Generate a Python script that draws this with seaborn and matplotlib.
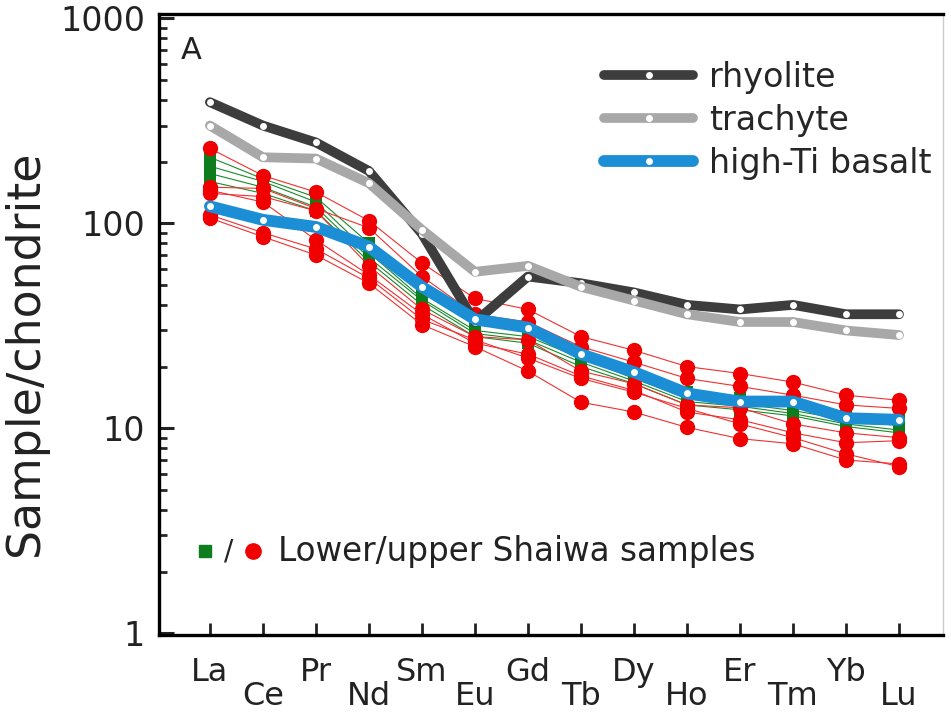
import matplotlib
matplotlib.use("Agg")
import matplotlib.pyplot as plt
import seaborn as sns
from matplotlib.ticker import FixedLocator, LogLocator, NullFormatter, FuncFormatter

# REE elements along the x axis
elements = ["La", "Ce", "Pr", "Nd", "Sm", "Eu", "Gd", "Tb", "Dy", "Ho", "Er", "Tm", "Yb", "Lu"]

# reference patterns (chondrite normalised)
rhyolite = [390, 300, 248, 180, 89, 33, 55, 51, 46, 40, 38, 40, 36, 36]
trachyte = [300, 210, 207, 157, 93, 58, 62, 49, 42, 36, 33, 33, 30, 28.5]
high_ti_basalt = [121, 104, 96, 77, 49, 34, 31, 23, 18.8, 14.8, 13.5, 13.5, 11.2, 11]

# lower Shaiwa samples (green squares)
lower_samples = [
    [210, 165, 134, 80, 46, 32, 30, 23, 18.5, 15, 14, 12.8, 11.5, 11],
    [190, 160, 127, 72, 43, 30, 28, 22, 17.5, 14, 13.2, 12.2, 11, 10.3],
    [175, 150, 120, 68, 42, 29, 27, 21, 17, 13.5, 12.8, 11.8, 10.5, 9.8],
    [160, 140, 115, 65, 40, 28, 26, 20, 16.5, 13, 12.3, 11.5, 10.2, 9.5],
]

# upper Shaiwa samples (red circles)
upper_samples = [
    [232, 171, 142, 103, 64, 43, 38, 28, 24, 20, 18.5, 16.8, 14.5, 13.7],
    [150, 148, 118, 95, 55, 36, 33, 25, 21, 17.5, 16, 14.5, 13, 12.5],
    [140, 135, 115, 62, 38, 28, 27, 19, 16.5, 13, 12.6, 10.5, 9.5, 9],
    [145, 127, 83, 56, 36, 26, 23, 18, 15.3, 12, 11, 9.5, 8.5, 8.7],
    [110, 90, 75, 54, 34, 27, 22, 17.5, 15, 12.5, 10.5, 9, 7.5, 6.5],
    [106, 86, 70, 51, 32, 25, 19, 13.4, 12, 10.1, 8.9, 8.4, 7, 6.7],
]

sns.set_theme(style="ticks")
plt.rcParams["font.family"] = ["DejaVu Sans"]

xpos = list(range(len(elements)))

fig = plt.figure(figsize=(9.51, 7.19), dpi=100)
ax = fig.add_axes([0.1672, 0.1168, 0.8244, 0.8637])

for s in lower_samples:
    sns.lineplot(x=xpos, y=s, ax=ax, color="#1a8a2a", lw=0.8, marker="s",
                 markersize=9, markeredgewidth=0, markerfacecolor="#0e7d1e")
for s in upper_samples:
    sns.lineplot(x=xpos, y=s, ax=ax, color="#f03030", lw=0.8, marker="o",
                 markersize=11, markeredgewidth=0, markerfacecolor="#f00000")

sns.lineplot(x=xpos, y=rhyolite, ax=ax, color="#3d3d3d", lw=7, marker="o",
             markersize=5, markerfacecolor="white", markeredgewidth=0, label="rhyolite")
sns.lineplot(x=xpos, y=trachyte, ax=ax, color="#a8a8a8", lw=7, marker="o",
             markersize=5, markerfacecolor="white", markeredgewidth=0, label="trachyte")
sns.lineplot(x=xpos, y=high_ti_basalt, ax=ax, color="#1b8ed6", lw=8.5, marker="o",
             markersize=5, markerfacecolor="white", markeredgewidth=0, label="high-Ti basalt")

ax.set_yscale("log")
ax.set_ylim(0.98, 1050)
ax.set_xlim(-0.96, 13.83)

ax.yaxis.set_major_locator(FixedLocator([1, 10, 100, 1000]))
ax.yaxis.set_major_formatter(FuncFormatter(lambda v, p: f"{v:g}"))
ax.yaxis.set_minor_locator(LogLocator(base=10, subs=range(2, 10)))
ax.yaxis.set_minor_formatter(NullFormatter())

ax.set_xticks(xpos)
ax.set_xticklabels(elements)
ax.tick_params(axis="x", which="major", direction="in", length=8.5, width=2,
               labelsize=23, colors="#222222")
for i, tick in enumerate(ax.xaxis.get_major_ticks()):
    tick.set_pad(16 if i % 2 == 0 else 33)
ax.tick_params(axis="y", which="major", direction="in", length=11, width=2.2,
               labelsize=24, pad=10, colors="#222222")
ax.tick_params(axis="y", which="minor", direction="in", length=6, width=2)

for side in ["left", "bottom", "top"]:
    ax.spines[side].set_linewidth(2.4)
    ax.spines[side].set_color("black")
ax.spines["right"].set_linewidth(1)
ax.spines["right"].set_color("#cccccc")

ax.set_ylabel("Sample/chondrite", fontsize=33, color="#222222")
ax.yaxis.set_label_coords(-0.142, 0.454)
ax.set_xlabel("")

ax.text(0.028, 0.965, "A", transform=ax.transAxes, fontsize=22, va="top", color="#222222")

ax.legend(loc="upper right", bbox_to_anchor=(0.99, 0.93), frameon=False, fontsize=24,
          handlelength=2.65, handletextpad=0.5, labelspacing=0.3, borderaxespad=0,
          borderpad=0.1, numpoints=1)

# lower-left sample key
ax.plot([0.059], [0.135], "s", color="#0e7d1e", markersize=9, transform=ax.transAxes)
ax.text(0.089, 0.135, "/", transform=ax.transAxes, fontsize=20, ha="center", va="center",
        color="#222222")
ax.plot([0.12], [0.135], "o", color="#f00000", markersize=11, transform=ax.transAxes)
ax.text(0.152, 0.135, "Lower/upper Shaiwa samples", transform=ax.transAxes, fontsize=23.5,
        va="center", color="#222222")

fig.savefig("out.png", dpi=100)
